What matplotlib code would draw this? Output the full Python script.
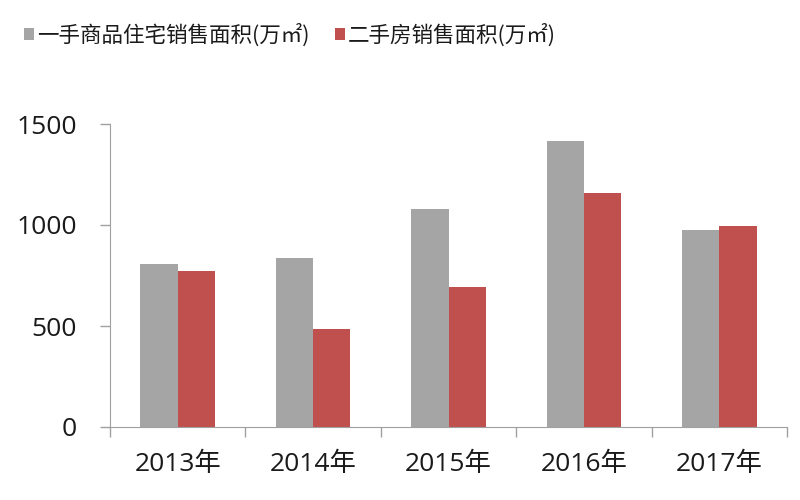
import matplotlib
matplotlib.use("Agg")
import matplotlib.pyplot as plt
import numpy as np

plt.rcParams['font.family'] = ['Open Sans', 'Noto Sans CJK SC', 'DejaVu Sans']

# 数据
years = ["2013年", "2014年", "2015年", "2016年", "2017年"]
new_homes = [805, 835, 1078, 1416, 974]      # 一手商品住宅销售面积
second_hand = [770, 487, 695, 1158, 994]     # 二手房销售面积
series_names = ["一手商品住宅销售面积(万㎡)", "二手房销售面积(万㎡)"]
colors = ["#a5a5a5", "#c0504d"]

fig = plt.figure(figsize=(8, 5), dpi=100)
ax = fig.add_axes([0.1375, 0.146, 0.8465, 0.606])

x = np.arange(len(years))
w = 0.275
ax.bar(x - w / 2, new_homes, w, color=colors[0], label=series_names[0])
ax.bar(x + w / 2, second_hand, w, color=colors[1], label=series_names[1])

ax.set_xlim(-0.5, len(years) - 0.5)
ax.set_ylim(0, 1500)
ax.set_yticks([0, 500, 1000, 1500])

# 分类边界刻度 + 中心标签
ax.set_xticks(np.arange(-0.5, len(years)), labels=[])
ax.set_xticks(x, labels=years, minor=True)
ax.tick_params(axis='x', which='major', direction='out', length=7, color='#a0a0a0', width=1)
ax.tick_params(axis='x', which='minor', length=0, pad=18, labelsize=19, labelcolor='#1a1a1a')
ax.tick_params(axis='y', direction='out', length=7, color='#a0a0a0', width=1,
               pad=17, labelsize=19, labelcolor='#1a1a1a')

for s in ['top', 'right']:
    ax.spines[s].set_visible(False)
for s in ['left', 'bottom']:
    ax.spines[s].set_color('#a0a0a0')

fig.legend(loc='center left', bbox_to_anchor=(0.03, 0.93), ncol=2, frameon=False,
           borderpad=0, borderaxespad=0,
           prop={'family': ['Noto Sans CJK SC', 'DejaVu Sans'], 'size': 15.5},
           handlelength=0.45, handleheight=0.45, handletextpad=0.15, columnspacing=1.2,
           labelcolor='#1a1a1a')

fig.savefig("out.png", dpi=100)
